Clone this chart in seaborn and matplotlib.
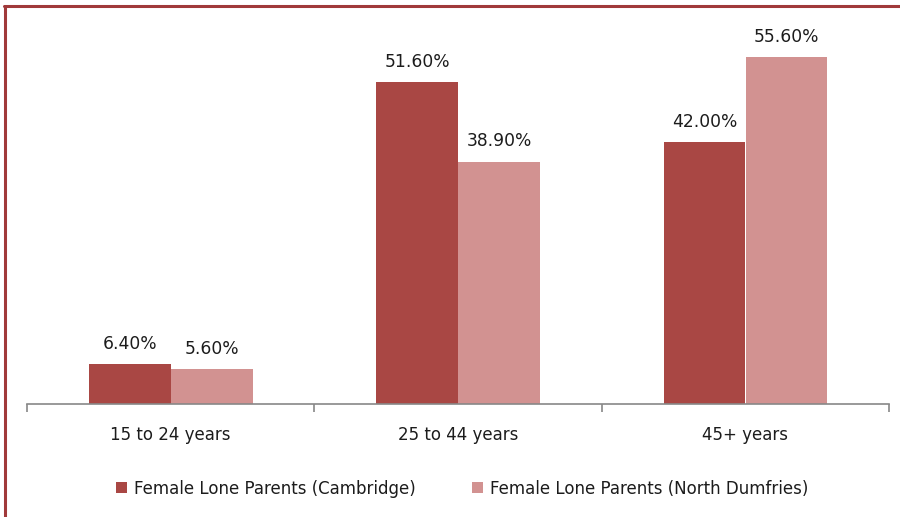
import pandas as pd
import matplotlib.pyplot as plt
import seaborn as sns

# Chart values
age_groups = ["15 to 24 years", "25 to 44 years", "45+ years"]
cambridge = [6.4, 51.6, 42.0]
north_dumfries = [5.6, 38.9, 55.6]
series_names = ["Female Lone Parents (Cambridge)", "Female Lone Parents (North Dumfries)"]

df = pd.DataFrame({
    "Age": age_groups * 2,
    "Share": cambridge + north_dumfries,
    "Series": [series_names[0]] * 3 + [series_names[1]] * 3,
})

sns.set_style("white")
plt.rcParams["font.family"] = ["DejaVu Sans"]

fig = plt.figure(figsize=(9, 5.17), dpi=100)
ax = fig.add_axes([0.03, 0.2186, 0.958, 0.7234])

palette = {series_names[0]: "#A94744", series_names[1]: "#D29291"}
sns.barplot(data=df, x="Age", y="Share", hue="Series", palette=palette,
            width=0.57, saturation=1, linewidth=0, ax=ax, legend=True)

for container in ax.containers:
    ax.bar_label(container, labels=[f"{v:.2f}%" for v in container.datavalues],
                 padding=8, fontsize=12.3, color="#1c1c1c")

ax.set_ylim(0, 60)
ax.set_xlim(-0.5, 2.5)
ax.set_xlabel("")
ax.set_ylabel("")
ax.set_yticks([])
for side in ["top", "right", "left"]:
    ax.spines[side].set_visible(False)
ax.spines["bottom"].set_color("#888888")
ax.spines["bottom"].set_linewidth(1.2)
ax.set_xticks([-0.5, 0.5, 1.5, 2.5], minor=True)
ax.tick_params(axis="x", which="minor", length=6, width=1.2, color="#888888", bottom=True)
ax.tick_params(axis="x", which="major", length=0, pad=16, labelsize=12, labelcolor="#1c1c1c")

ax.legend(loc="upper center", bbox_to_anchor=(0.505, -0.162), ncol=2, frameon=False,
          fontsize=12, handlelength=0.66, handleheight=0.66, handletextpad=0.4,
          columnspacing=3.4, labelcolor="#1c1c1c")

# dark red frame on the left and top
fig.add_artist(plt.Line2D([0.005, 0.005], [0, 0.988], color="#A0393A", lw=2.2,
                          transform=fig.transFigure))
fig.add_artist(plt.Line2D([0.004, 1.0], [0.988, 0.988], color="#A0393A", lw=2.2,
                          transform=fig.transFigure))

fig.savefig("out.png", dpi=100)
